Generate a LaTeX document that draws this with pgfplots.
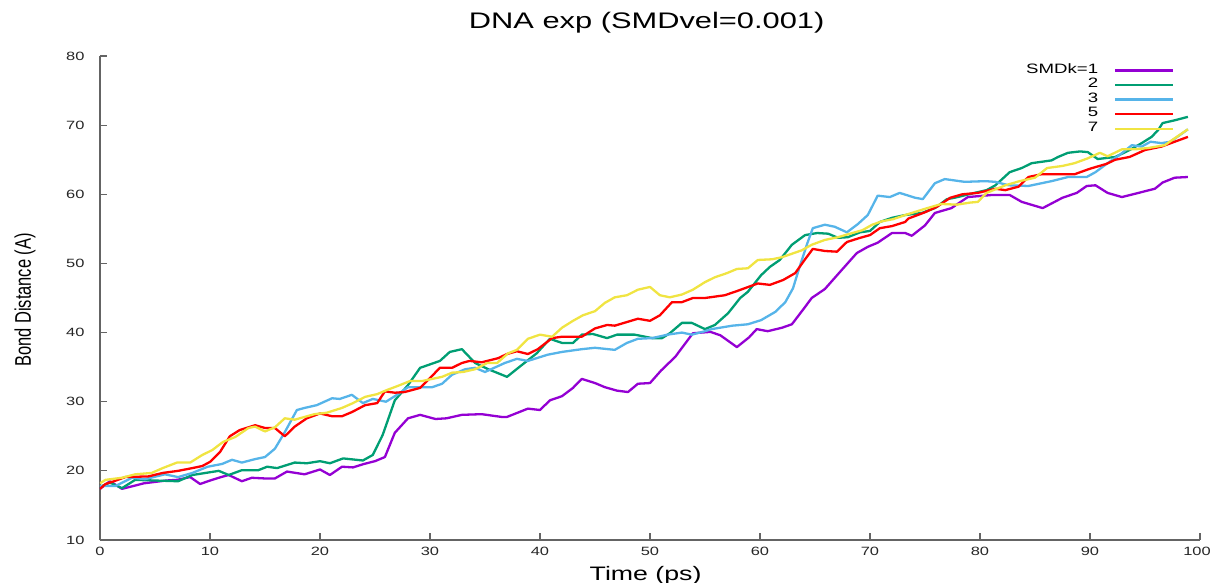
\documentclass[border=0pt]{standalone}
\usepackage{pgfplots}
\pgfplotsset{compat=1.18}
\usepackage{fontspec}
\setmainfont{Liberation Sans}[FakeStretch=1.37]
\newfontfamily\plainsans{Liberation Sans}

\definecolor{k1}{HTML}{9400D3}
\definecolor{k2}{HTML}{009E73}
\definecolor{k3}{HTML}{56B4E9}
\definecolor{k5}{HTML}{FF0000}
\definecolor{k7}{HTML}{F0E442}
\definecolor{axisgray}{RGB}{100,100,100}

\begin{document}
\begin{tikzpicture}
\path[use as bounding box] (-100pt,-42pt) rectangle (1111pt,540pt);
\begin{axis}[
  at={(0pt,0pt)}, anchor=south west,
  scale only axis, width=1100pt, height=484pt,
  xmin=0, xmax=100, ymin=10, ymax=80,
  axis x line*=bottom, axis y line*=left,
  axis line style={draw=axisgray, line width=1.8pt},
  xtick={0,10,...,90}, ytick={10,20,...,80},
  extra x ticks={100},
  extra x tick style={xticklabel style={xshift=-3pt}},
  tick align=inside, major tick length=7pt,
  tick style={draw=axisgray, line width=1.2pt},
  tick label style={font=\fontsize{12}{14}\selectfont, text=black!85},
  /pgf/number format/assume math mode=true,
  xticklabel style={yshift=-4pt},
  yticklabel style={xshift=-12pt},
  title={DNA exp (SMDvel=0.001)},
  title style={font=\fontsize{22.5}{26}\selectfont, at={(0.497,1)}, anchor=base, yshift=22pt},
  xlabel={Time (ps)},
  xlabel style={font=\fontsize{19.5}{22}\selectfont, at={(0.496,0)}, anchor=base, yshift=-40pt},
  ylabel={\scalebox{1}[1.37]{\plainsans\fontsize{16.5}{20}\selectfont Bond Distance (A)}},
  every axis y label/.style={at={(axis description cs:0,0.496)}, rotate=90, anchor=center, yshift=75pt},
  legend plot pos=right,
  legend cell align=right,
  legend image code/.code={\draw[#1] (0pt,0pt) -- (58pt,0pt);},
  legend style={at={(axis cs:97.7,79.0)}, anchor=north east, draw=none, fill=none,
    font=\fontsize{13.6}{15}\selectfont, row sep=0pt, inner sep=0pt,
    nodes={inner sep=0pt, text height=10pt, text depth=4.6pt},
    /tikz/column sep=16pt},
  every axis plot/.append style={line width=2.3pt, line join=round},
]
\addplot[k1] coordinates {
(0,17.4) (0.9,18.5) (2,17.4) (3,17.8) (4,18.2) (5,18.4) (6,18.6) (7,18.7) (8.2,19.1) (9.1,18.1)
(10,18.6) (11,19.1) (11.7,19.4) (12.9,18.5) (13.8,19.0) (15,18.9) (15.9,18.9) (17,19.9) (18.6,19.5)
(20,20.2) (20.9,19.4) (22,20.6) (23,20.5) (24,21.0) (25,21.4) (25.9,22.0) (26.8,25.5) (28,27.6)
(29.1,28.1) (30.5,27.5) (31.5,27.6) (32.9,28.1) (34.7,28.2) (36.5,27.8) (37,27.8) (38.9,29.0)
(40,28.8) (40.9,30.2) (42,30.8) (43,32.0) (43.8,33.3) (45,32.7) (45.9,32.1) (47,31.6) (48,31.4)
(48.9,32.6) (50,32.7) (51,34.5) (52.3,36.5) (53.9,39.9) (55.5,40.1) (56.4,39.6) (57.9,37.9)
(59,39.3) (59.7,40.5) (60.7,40.2) (62,40.7) (62.9,41.2) (64,43.5) (64.7,45.0) (65.9,46.3)
(67.4,49.0) (68.8,51.5) (69.8,52.4) (70.7,53.0) (72,54.4) (73.2,54.4) (73.8,54.0) (75,55.5)
(75.9,57.3) (77.4,58.0) (78.9,59.6) (81.1,59.9) (82.7,59.9) (83.8,58.9) (85.7,58.0) (87.5,59.5)
(88.8,60.2) (89.7,61.2) (90.5,61.3) (91.6,60.2) (92.9,59.6) (94.4,60.2) (95.9,60.8) (96.6,61.7)
(97.7,62.4) (98.9,62.5)
};
\addlegendentry{SMDk=1}
\addplot[k2] coordinates {
(0,17.7) (0.9,18.3) (2,17.5) (3.2,18.7) (5,18.6) (7.1,18.5) (8.4,19.4) (10.8,20.0) (11.7,19.4)
(12.9,20.1) (14.4,20.1) (15.2,20.6) (16.1,20.4) (17.7,21.2) (18.8,21.1) (20,21.4) (20.9,21.1)
(22.1,21.8) (23.9,21.5) (24.8,22.3) (25.7,25.2) (26.8,30.2) (28,32.4) (29.1,34.9) (30.9,35.9)
(31.8,37.2) (32.9,37.6) (34.1,35.6) (35.3,34.7) (37,33.6) (38.5,35.5) (39.7,37.0) (40.9,39.1)
(42,38.5) (43,38.5) (43.8,39.7) (44.8,39.8) (46.1,39.2) (47,39.7) (48.6,39.7) (50.2,39.2)
(51.1,39.2) (51.8,39.9) (52.9,41.4) (53.8,41.4) (55,40.5) (55.9,41.1) (57.1,42.8) (58.2,45.0)
(58.9,45.9) (60.1,48.3) (60.9,49.5) (61.8,50.5) (62.9,52.7) (64.1,54.1) (65.2,54.4) (66.2,54.3)
(67.1,53.7) (68,53.8) (69.1,54.5) (70,54.7) (70.9,56.0) (72,56.6) (73.2,57.0) (74.7,57.3)
(75.9,58.0) (77,59.3) (77.7,59.5) (79.5,60.2) (80.6,60.6) (81.4,61.3) (82.7,63.2) (83.8,63.8)
(84.7,64.5) (86.5,64.9) (87.1,65.4) (88,66.0) (89.1,66.2) (89.8,66.1) (90.7,65.1) (92.3,65.4)
(93.6,66.4) (94.7,67.4) (95.6,68.3) (96.2,69.3) (96.6,70.3) (97.7,70.7) (98.9,71.2)
};
\addlegendentry{2}
\addplot[k3] coordinates {
(0,17.8) (1.4,17.8) (2.9,19.0) (4.1,18.8) (5.9,19.5) (7.1,19.1) (8.4,19.7) (9.8,20.6) (11.1,21.0)
(12,21.6) (12.9,21.2) (14.1,21.7) (15,22.0) (15.9,23.2) (16.8,25.6) (17.9,28.8) (18.6,29.1)
(19.7,29.5) (21.1,30.5) (21.8,30.4) (22.9,31.0) (23.9,29.8) (24.8,30.4) (26,30.0) (27.1,31.1)
(28,32.1) (30.2,32.1) (31.1,32.6) (32,33.9) (33.2,34.7) (34.1,34.9) (35,34.3) (36.8,35.6)
(37.9,36.2) (38.9,35.9) (40.7,36.8) (42,37.2) (43.8,37.6) (45,37.8) (46.8,37.5) (47.9,38.5)
(48.9,39.1) (50.2,39.2) (51.6,39.7) (52.9,40.0) (53.8,39.7) (55,40.2) (55.6,40.5) (57.5,41.0)
(58.9,41.2) (60.1,41.8) (61.4,43.0) (62.3,44.4) (63,46.4) (63.6,49.5) (64.3,52.9) (64.8,55.1)
(65.9,55.6) (66.8,55.3) (67.9,54.5) (68.9,55.7) (69.8,57.0) (70.7,59.8) (71.8,59.6) (72.7,60.2)
(74.1,59.5) (74.8,59.3) (75.9,61.6) (76.8,62.2) (78.6,61.8) (80.5,61.9) (81.4,61.8) (82.6,61.3)
(84.4,61.2) (86.5,61.9) (88,62.5) (89.7,62.5) (90.5,63.2) (91.6,64.5) (92.7,65.7) (93.8,67.1)
(94.7,66.9) (95.5,67.6) (96.5,67.4) (97.3,67.6) (98.2,68.6) (98.9,69.4)
};
\addlegendentry{3}
\addplot[k5] coordinates {
(0,17.4) (0.5,18.1) (1.1,18.4) (2.3,19.1) (4.4,19.2) (5.7,19.7) (7.1,20.0) (8.4,20.4) (9.3,20.7)
(10,21.3) (10.9,22.7) (11.8,25.0) (12.7,25.9) (14.1,26.6) (15,26.2) (15.9,26.2) (16.8,25.0)
(17.7,26.4) (18.8,27.6) (20,28.3) (21.1,27.9) (22,27.9) (22.9,28.5) (24.1,29.5) (25.2,29.8)
(25.9,31.5) (26.8,31.3) (27.7,31.4) (29.1,32.0) (29.8,33.1) (30.9,34.9) (32,34.9) (32.9,35.6)
(33.6,35.9) (34.7,35.7) (36.2,36.3) (37,36.9) (37.9,37.3) (38.9,36.9) (39.8,37.6) (41.1,39.2)
(42,39.4) (43.8,39.4) (45,40.6) (46.1,41.1) (46.8,41.0) (48.9,42.0) (50,41.7) (50.9,42.5)
(52,44.4) (52.9,44.4) (53.9,45.0) (55,45.0) (56.8,45.4) (57.9,46.0) (59.8,47.1) (60.9,46.9)
(62.1,47.6) (63.2,48.6) (64.1,50.6) (64.8,52.1) (65.9,51.8) (67,51.7) (67.9,53.1) (69.1,53.7)
(70,54.1) (70.9,55.1) (72,55.4) (73.2,56.0) (73.5,56.5) (75,57.4) (76.1,58.2) (77.3,59.5)
(78.4,60.0) (79.8,60.2) (81.4,60.8) (82.3,60.6) (83.5,61.1) (84.4,62.5) (85.6,62.9) (88.6,62.9)
(90,63.7) (91.5,64.4) (92.3,65.0) (93.6,65.4) (95,66.4) (96.5,66.9) (97.7,67.6) (98.9,68.3)
};
\addlegendentry{5}
\addplot[k7] coordinates {
(0,18.2) (0.5,18.7) (2,19.0) (3.2,19.5) (4.7,19.7) (5.7,20.4) (7,21.2) (8.2,21.2) (9.3,22.3)
(10.2,23.0) (11.2,24.2) (12.3,24.9) (13.5,26.2) (14.1,26.4) (15,25.7) (15.9,26.3) (16.8,27.6)
(17.7,27.4) (19.5,28.2) (20.6,28.4) (22,29.1) (23,29.8) (24.1,30.7) (25.2,31.1) (26.1,31.7)
(27.1,32.3) (28.2,33.0) (29.3,33.0) (31.1,33.6) (32,34.2) (33,34.3) (34.1,34.7) (35.2,35.6)
(36.1,35.6) (37.1,37.0) (37.9,37.5) (38.9,39.1) (40,39.7) (41.1,39.4) (42,40.7) (43,41.7)
(43.9,42.5) (45,43.1) (45.9,44.3) (46.8,45.1) (47.9,45.4) (48.9,46.2) (50,46.6) (50.9,45.4)
(51.8,45.1) (52.9,45.5) (53.9,46.2) (55,47.3) (55.9,48.0) (57,48.6) (57.9,49.2) (58.9,49.3)
(59.8,50.5) (61.1,50.6) (62,50.9) (62.9,51.4) (63.8,51.9) (64.7,52.7) (65.9,53.4) (67.1,53.8)
(68.4,54.4) (69.3,54.8) (70.2,55.6) (71.1,56.1) (72.1,56.4) (73.2,57.0) (73.8,57.3) (75,57.9)
(76.5,58.6) (77.9,58.5) (79.1,58.8) (79.8,58.9) (80.6,60.2) (82.3,61.3) (83.6,61.9) (85,62.4)
(86.1,63.8) (87.5,64.1) (88.6,64.5) (89.8,65.2) (90.9,66.0) (91.6,65.5) (92.9,66.5) (94.1,66.5)
(95.3,66.7) (96.8,67.1) (97.7,68.1) (98.9,69.4)
};
\addlegendentry{7}
\end{axis}
\end{tikzpicture}
\end{document}
